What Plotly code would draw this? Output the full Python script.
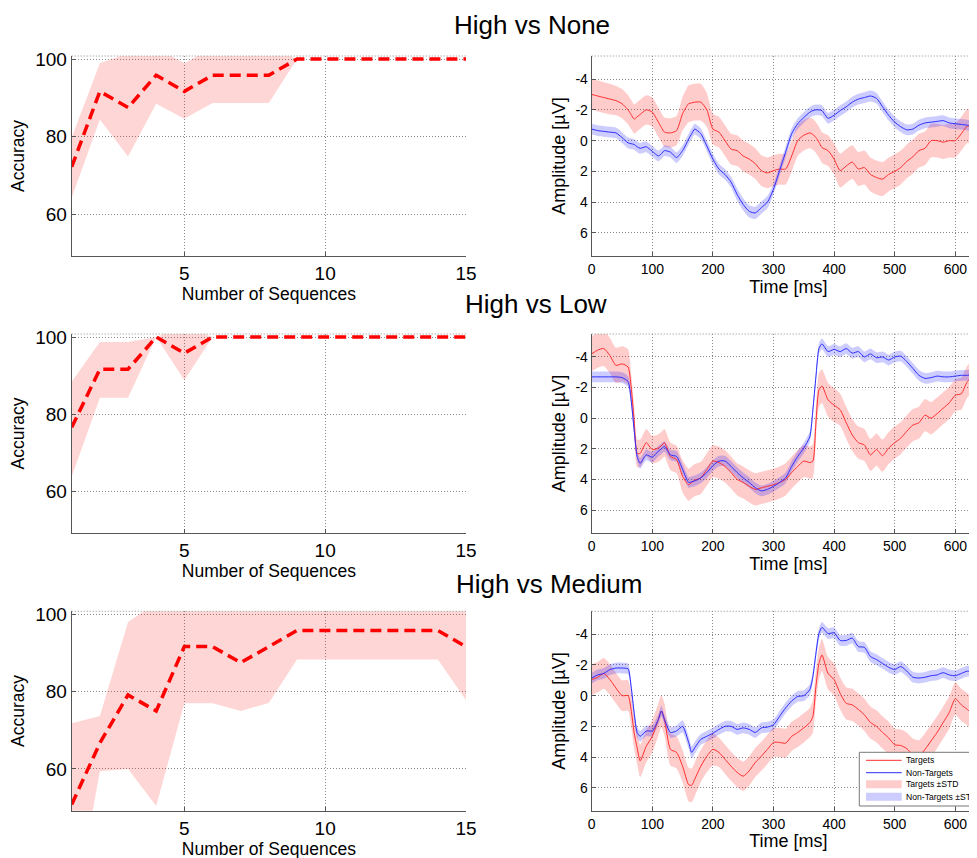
import plotly.graph_objects as go
from plotly.subplots import make_subplots

# ---------------- Accuracy panels (left) ----------------
seq = list(range(1, 16))
none_acc = [72.2, 91.67, 87.5, 95.83, 91.67, 95.83, 95.83, 95.83, 100, 100, 100, 100, 100, 100, 100]
none_up = [79.8, 98.9, 101.5, 103, 98.9, 103, 103, 103, 100, 100, 100, 100, 100, 100, 100]
none_lo = [64.2, 84.4, 74.9, 88.5, 84.6, 88.7, 88.7, 88.7, 100, 100, 100, 100, 100, 100, 100]

low_acc = [76.6, 91.67, 91.67, 100, 95.83, 100, 100, 100, 100, 100, 100, 100, 100, 100, 100]
low_up = [88.4, 98.7, 98.7, 100, 103, 100, 100, 100, 100, 100, 100, 100, 100, 100, 100]
low_lo = [63.8, 84.3, 84.3, 100, 88.8, 100, 100, 100, 100, 100, 100, 100, 100, 100, 100]

med_acc = [50.8, 66.7, 79.17, 75.0, 91.67, 91.67, 87.5, 91.67, 95.83, 95.83, 95.83, 95.83, 95.83, 95.83, 91.67]
med_up = [71.8, 73.7, 98.0, 103, 106, 106, 103, 106, 103, 103, 103, 103, 103, 103, 106]
med_lo = [19.0, 59.4, 60.0, 50.4, 77.0, 77.0, 75.0, 77.1, 88.3, 88.3, 88.3, 88.3, 88.3, 88.3, 77.8]

# ---------------- ERP panels (right) ----------------
time_ms = [0, 10, 20, 30, 40, 50, 60, 65, 70, 75, 80, 90, 100, 110, 115, 120, 130, 140, 150, 160, 165,
           170, 180, 190, 200, 210, 220, 230, 240, 250, 260, 270, 280, 290, 300, 310, 320, 330, 340, 350, 360,
           365, 370, 375, 380, 390, 400, 410, 420, 430, 440, 450, 460, 470, 480, 490, 500, 510, 520, 530, 540,
           550, 560, 570, 580, 590, 600, 610, 620, 630, 640]

none_tgt = [-3.0, -2.9, -2.8, -2.7, -2.6, -2.4, -2.0, -1.7, -1.4, -1.55, -1.7, -2.0, -1.85, -1.2, -0.85,
            -0.55, -0.5, -0.65, -1.75, -2.4, -2.45,
            -2.5, -2.5, -2.0, -0.75, -0.55, 0.0, 0.55, 0.65, 1.0, 1.2, 1.5, 1.95, 2.1, 1.95, 1.85, 1.85, 1.0, 0.0, -0.35, -0.5,
            -0.4, -0.2, 0.1, 0.45,
            0.65, 1.2, 1.95, 1.65, 1.4, 1.85, 1.75, 2.2, 2.4, 2.5, 2.2, 2.0, 1.75, 1.35, 1.05, 0.65, 0.5, 0.0, 0.0, 0.1,
            0.0, 0.0, -0.45, -0.95, -0.8, -0.35]
none_non = [-0.75, -0.65, -0.6, -0.55, -0.5, -0.2, 0.15, 0.2, 0.25, 0.4, 0.5, 0.4, 0.7, 1.0, 0.85,
            0.65, 0.75, 1.1, 0.65, -0.1, -0.45,
            -0.75, -0.45, 0.35, 1.2, 1.85, 2.2, 2.7, 3.5, 4.15, 4.6, 4.7, 4.35, 4.0, 3.15, 1.95, 0.75, -0.45, -1.1, -1.5, -1.85,
            -1.95, -2.0, -2.0, -1.95,
            -1.45, -1.65, -1.95, -2.2, -2.5, -2.7, -2.8, -2.9, -2.75, -2.2, -1.65, -1.2, -0.9, -0.7, -0.75, -1.0, -1.15,
            -1.2, -1.25, -1.3, -1.15, -1.1, -1.05, -1.0, -0.9, -0.85]
none_tgt_sd = [1.0, 1.0, 1.0, 1.0, 0.95, 0.95, 0.95, 0.95, 0.95, 0.95, 0.95, 0.95, 0.95, 0.95, 0.95,
               0.95, 0.95, 0.95, 1.1, 1.2, 1.2,
               1.2, 1.2, 1.1, 1.0, 1.0, 1.0, 1.0, 1.0, 1.0, 1.0, 1.0, 1.0, 1.0, 1.0, 1.0, 1.0, 1.0, 1.0, 1.0, 1.0,
               1.0, 1.0, 1.0, 1.0,
               1.0, 1.0, 1.1, 1.1, 1.1, 1.1, 1.1, 1.1, 1.1, 1.1, 1.1, 1.1, 1.1, 1.1, 1.1, 1.1, 1.1, 1.1, 1.1, 1.1,
               1.1, 1.1, 1.1, 1.1, 1.1, 1.1]
none_non_sd = [0.35, 0.35, 0.35, 0.35, 0.35, 0.35, 0.35, 0.35, 0.35, 0.35, 0.35, 0.35, 0.35, 0.35, 0.35,
               0.35, 0.35, 0.35, 0.35, 0.35, 0.35,
               0.35, 0.35, 0.35, 0.35, 0.35, 0.35, 0.35, 0.4, 0.4, 0.4, 0.4, 0.4, 0.4, 0.35, 0.35, 0.35, 0.35, 0.35, 0.35, 0.35,
               0.35, 0.35, 0.35, 0.35,
               0.35, 0.35, 0.35, 0.35, 0.35, 0.35, 0.35, 0.35, 0.35, 0.35, 0.35, 0.35, 0.35, 0.35, 0.35, 0.35, 0.35,
               0.35, 0.35, 0.35, 0.35, 0.35, 0.35, 0.35, 0.35, 0.35]

low_tgt = [-4.2, -4.45, -4.55, -4.1, -3.45, -3.55, -3.35, -2.05, 0.1, 2.3, 2.3, 1.6, 2.05, 1.95, 1.8,
           1.6, 2.5, 2.7, 3.8, 4.35, 4.2,
           4.05, 3.9, 3.35, 2.8, 2.9, 3.15, 3.55, 4.0, 4.2, 4.45, 4.65, 4.55, 4.45, 4.35, 4.2, 4.0, 3.55, 3.15, 2.8, 2.9,
           2.8, 0.3, -1.85, -2.1,
           -1.2, -0.85, -0.55, 0.3, 1.1, 1.6, 1.75, 2.4, 2.05, 2.45, 1.95, 1.6, 1.3, 0.85, 0.45, 0.3, -0.2,
           0.0, -0.3, -0.65, -1.0, -1.5, -1.6, -2.4, -2.7, -2.8]
low_non = [-2.7, -2.7, -2.7, -2.7, -2.7, -2.65, -2.4, -1.2, 0.75, 2.5, 2.95, 2.4, 2.55, 2.15, 2.0,
           1.85, 2.4, 2.5, 3.35, 4.2, 4.15,
           4.1, 3.9, 3.55, 3.1, 2.8, 2.8, 3.15, 3.55, 3.9, 4.2, 4.55, 4.75, 4.65, 4.45, 4.2, 3.9, 3.15, 2.5, 1.95, 1.2,
           -0.55, -2.7, -4.55, -4.85,
           -4.35, -4.5, -4.35, -4.55, -4.25, -4.35, -4.0, -4.2, -3.95, -4.0, -3.8, -4.0, -4.05, -3.7, -3.25, -2.8, -2.6,
           -2.65, -2.75, -2.7, -2.7, -2.75, -2.8, -2.8, -2.85, -2.85]
low_tgt_sd = [1.15, 1.15, 1.15, 1.15, 1.15, 1.15, 1.15, 0.9, 0.9, 0.9, 0.9, 0.9, 0.9, 0.9, 0.9,
              0.9, 0.9, 0.9, 1.05, 1.05, 1.05,
              1.05, 1.05, 1.05, 1.05, 1.05, 1.05, 1.05, 1.05, 1.05, 1.05, 1.05, 1.05, 1.05, 1.05, 1.05, 1.05, 1.05, 1.05, 1.05, 1.05,
              1.1, 1.1, 1.1, 1.1,
              1.1, 1.1, 1.05, 1.05, 1.05, 1.05, 1.05, 1.05, 1.05, 1.05, 1.05, 1.05, 1.05, 1.05, 1.05, 1.05, 1.05,
              1.05, 1.05, 1.05, 1.05, 1.05, 1.05, 1.05, 1.05, 1.05]
low_non_sd = [0.35, 0.35, 0.35, 0.35, 0.35, 0.35, 0.35, 0.35, 0.35, 0.35, 0.35, 0.35, 0.35, 0.35, 0.35,
              0.35, 0.35, 0.35, 0.35, 0.35, 0.35,
              0.35, 0.35, 0.35, 0.35, 0.35, 0.35, 0.35, 0.35, 0.35, 0.35, 0.35, 0.35, 0.35, 0.35, 0.35, 0.35, 0.35, 0.35, 0.35, 0.35,
              0.35, 0.35, 0.35, 0.35,
              0.35, 0.35, 0.35, 0.35, 0.35, 0.35, 0.35, 0.35, 0.35, 0.35, 0.35, 0.35, 0.35, 0.35, 0.35, 0.35, 0.35,
              0.35, 0.35, 0.35, 0.35, 0.35, 0.35, 0.35, 0.35, 0.35]

med_tgt = [-1.05, -1.2, -1.45, -1.05, -0.5, 0.0, 0.0, 0.9, 2.4, 3.4, 4.25, 3.3, 2.65, 1.55, 1.0,
           1.55, 3.5, 3.7, 4.6, 5.8, 5.85,
           5.45, 4.6, 3.95, 3.5, 3.7, 4.15, 4.6, 5.0, 5.25, 4.9, 4.35, 3.95, 3.5, 3.05, 3.05, 3.1, 2.65, 2.4, 2.1, 1.75,
           1.35, -0.6, -2.1, -2.65,
           -1.45, -1.05, -0.15, 0.5, 0.6, 0.9, 1.25, 1.75, 2.0, 2.4, 2.75, 3.2, 3.25, 3.45, 3.85, 3.95, 3.5,
           2.95, 2.4, 1.75, 1.1, 0.2, 0.6, 0.9, 1.25, 1.1]
med_non = [-1.15, -1.35, -1.45, -1.7, -1.8, -1.8, -1.75, -0.6, 1.1, 2.4, 2.65, 2.3, 2.3, 1.55, 1.0,
           1.55, 2.4, 2.3, 2.0, 3.05, 3.7,
           3.4, 2.85, 2.65, 2.45, 2.2, 2.0, 2.0, 2.2, 2.1, 2.2, 2.4, 2.1, 2.05, 1.9, 1.35, 0.8, 0.35, 0.05, 0.0, -0.4,
           -1.25, -2.75, -4.05, -4.45,
           -4.05, -4.1, -3.6, -3.6, -3.75, -3.2, -3.15, -2.55, -2.35, -2.1, -1.85, -1.7, -1.9, -1.6, -1.2, -1.15, -1.2,
           -1.3, -1.35, -1.5, -1.35, -1.3, -1.45, -1.6, -1.5, -1.75]
med_tgt_sd = [1.0, 1.0, 1.0, 1.0, 1.0, 1.0, 1.0, 1.05, 1.05, 1.05, 1.05, 1.05, 1.05, 1.05, 1.05,
              1.05, 1.05, 1.05, 1.05, 1.1, 1.1,
              1.1, 1.05, 1.05, 1.05, 0.95, 0.95, 0.95, 0.95, 0.95, 0.95, 0.95, 0.95, 0.95, 0.95, 0.95, 0.95, 0.95, 0.95, 0.95, 0.95,
              1.05, 1.05, 1.05, 1.05,
              1.05, 1.05, 1.05, 1.05, 1.05, 1.05, 1.05, 1.05, 1.05, 1.05, 1.05, 1.05, 1.05, 1.05, 1.05, 1.05, 1.05,
              1.05, 1.05, 1.05, 1.05, 1.05, 1.05, 1.05, 1.05, 1.05]
med_non_sd = [0.35, 0.35, 0.35, 0.35, 0.35, 0.35, 0.35, 0.35, 0.35, 0.35, 0.35, 0.35, 0.35, 0.35, 0.35,
              0.35, 0.35, 0.35, 0.4, 0.4, 0.4,
              0.4, 0.35, 0.35, 0.35, 0.35, 0.35, 0.35, 0.35, 0.35, 0.35, 0.35, 0.35, 0.35, 0.35, 0.35, 0.35, 0.35, 0.35, 0.35, 0.35,
              0.35, 0.35, 0.35, 0.35,
              0.35, 0.35, 0.35, 0.35, 0.35, 0.35, 0.35, 0.35, 0.35, 0.35, 0.35, 0.35, 0.35, 0.35, 0.35, 0.35, 0.35,
              0.35, 0.35, 0.35, 0.35, 0.35, 0.35, 0.35, 0.35, 0.35]

panel_titles = ["High vs None", "High vs Low", "High vs Medium"]
acc_ticks = [60, 80, 100]
seq_ticks = [5, 10, 15]
time_ticks = [0, 100, 200, 300, 400, 500, 600]
amp_ticks = [-4, -2, 0, 2, 4, 6]
amp_ticktext = ["-4", "-2", "0", "2", "4", "6"]
legend_labels = ["Targets", "Non-Targets", "Targets \u00b1STD", "Non-Targets \u00b1STD"]

for arr in [none_tgt, none_non, none_tgt_sd, none_non_sd, low_tgt, low_non, low_tgt_sd, low_non_sd,
            med_tgt, med_non, med_tgt_sd, med_non_sd]:
    assert len(arr) == len(time_ms), len(arr)

# ---------------- styling ----------------
FONT = "Liberation Sans, Arial, sans-serif"
RED = "#ff0000"
BAND_ACC = "rgba(255,0,0,0.16)"
TGT_LINE = "rgb(255,45,45)"
NON_LINE = "rgb(45,45,255)"
TGT_BAND = "rgba(255,0,0,0.2)"
NON_BAND = "rgba(0,0,255,0.2)"
GRID = "#8a8a8a"
AXLINE = "#555555"

W, H = 977, 858
OFF = 8.0  # page offset of the figure inside the screenshot


def px_x(p):
    return (p - OFF) / W


def px_y(p):
    return 1 - (p - OFF) / H


fig = make_subplots(rows=3, cols=2)

acc_sets = [(none_acc, none_up, none_lo), (low_acc, low_up, low_lo), (med_acc, med_up, med_lo)]
erp_sets = [(none_tgt, none_tgt_sd, none_non, none_non_sd),
            (low_tgt, low_tgt_sd, low_non, low_non_sd),
            (med_tgt, med_tgt_sd, med_non, med_non_sd)]


def band(x, m, sd):
    up = [a - b for a, b in zip(m, sd)]
    lo = [a + b for a, b in zip(m, sd)]
    return list(x) + list(x)[::-1], up + lo[::-1]


SMOOTH = 0.6
for r in range(3):
    mean, up, lo = acc_sets[r]
    fig.add_trace(go.Scatter(x=seq + seq[::-1], y=up + lo[::-1], fill="toself", fillcolor=BAND_ACC,
                             line=dict(width=0), mode="lines", hoverinfo="skip", showlegend=False),
                  row=r + 1, col=1)
    fig.add_trace(go.Scatter(x=seq, y=mean, mode="lines", line=dict(color=RED, width=3.5, dash="11px,6px"),
                             name="Accuracy", showlegend=False), row=r + 1, col=1)

    tgt, tsd, non, nsd = erp_sets[r]
    bx, by = band(time_ms, tgt, tsd)
    fig.add_trace(go.Scatter(x=bx, y=by, fill="toself", fillcolor=TGT_BAND,
                             line=dict(width=0, shape="spline", smoothing=SMOOTH),
                             mode="lines", hoverinfo="skip", name=legend_labels[2], showlegend=False),
                  row=r + 1, col=2)
    bx, by = band(time_ms, non, nsd)
    fig.add_trace(go.Scatter(x=bx, y=by, fill="toself", fillcolor=NON_BAND,
                             line=dict(width=0, shape="spline", smoothing=SMOOTH),
                             mode="lines", hoverinfo="skip", name=legend_labels[3], showlegend=False),
                  row=r + 1, col=2)
    fig.add_trace(go.Scatter(x=time_ms, y=tgt, mode="lines",
                             line=dict(color=TGT_LINE, width=1, shape="spline", smoothing=SMOOTH),
                             name=legend_labels[0], showlegend=False), row=r + 1, col=2)
    fig.add_trace(go.Scatter(x=time_ms, y=non, mode="lines",
                             line=dict(color=NON_LINE, width=1, shape="spline", smoothing=SMOOTH),
                             name=legend_labels[1], showlegend=False), row=r + 1, col=2)

# domains (screen pixel positions of the reference, corrected for page offset)
left_x = [px_x(71.7), px_x(466.0)]
right_x = [px_x(591.7), 1.0]
px_per_ms = 0.606
time_max = (W - (591.7 - OFF)) / px_per_ms
rows_px = [(56.0, 256.0), (334.0, 533.0), (611.3, 810.7)]
row_dom = [[px_y(b), px_y(t)] for (t, b) in rows_px]

common_ax = dict(showline=True, linecolor=AXLINE, linewidth=1, mirror=False, zeroline=False,
                 showgrid=True, gridcolor=GRID, gridwidth=1, griddash="1px,2px",
                 ticks="inside", ticklen=4, tickcolor=AXLINE, automargin=False)

layout_axes = {}
for r in range(3):
    li = 2 * r + 1
    ri = 2 * r + 2
    sfx = lambda i: "" if i == 1 else str(i)
    layout_axes["xaxis" + sfx(li)] = dict(common_ax, domain=left_x, range=[1, 15], tickvals=seq_ticks,
                                          tickfont=dict(size=19, family=FONT, color="black"),
                                          title=dict(text="Number of Sequences", standoff=2,
                                                     font=dict(size=17.5, family=FONT, color="black")))
    layout_axes["yaxis" + sfx(li)] = dict(common_ax, domain=row_dom[r], range=[49.2, 100.8], tickvals=acc_ticks,
                                          tickfont=dict(size=19, family=FONT, color="black"),
                                          title=dict(text="Accuracy", standoff=7,
                                                     font=dict(size=17.5, family=FONT, color="black")))
    layout_axes["xaxis" + sfx(ri)] = dict(common_ax, domain=right_x, range=[0, time_max], tickvals=time_ticks,
                                          tickfont=dict(size=14, family=FONT, color="black"),
                                          title=dict(text="Time [ms]", standoff=3,
                                                     font=dict(size=18, family=FONT, color="black")))
    layout_axes["yaxis" + sfx(ri)] = dict(common_ax, domain=row_dom[r], range=[7.5, -5.5], tickvals=amp_ticks,
                                          ticktext=amp_ticktext,
                                          tickfont=dict(size=14, family=FONT, color="black"),
                                          title=dict(text="Amplitude [\u00b5V]", standoff=5,
                                                     font=dict(size=18, family=FONT, color="black")))

fig.update_layout(**layout_axes)

shapes = []
# dotted top borders of each axes box
for r in range(3):
    for c in range(2):
        idx = 2 * r + c + 1
        xr = "x" if idx == 1 else "x" + str(idx)
        yr = "y" if idx == 1 else "y" + str(idx)
        shapes.append(dict(type="line", xref=xr + " domain", yref=yr + " domain", x0=0, x1=1, y0=1, y1=1,
                           line=dict(color=GRID, width=1, dash="1px,2px")))

# legend key in the bottom-right panel
shapes.append(dict(type="rect", xref="paper", yref="paper", x0=px_x(859.3), x1=1.02, y0=px_y(806), y1=px_y(752.3),
                   fillcolor="white", line=dict(color="#777777", width=1), layer="above"))
row_y = [760.3, 772.7, 784.3, 796.7]
shapes.append(dict(type="line", xref="paper", yref="paper", x0=px_x(866), x1=px_x(901.7), y0=px_y(row_y[0]),
                   y1=px_y(row_y[0]), line=dict(color=TGT_LINE, width=1)))
shapes.append(dict(type="line", xref="paper", yref="paper", x0=px_x(866), x1=px_x(901.7), y0=px_y(row_y[1]),
                   y1=px_y(row_y[1]), line=dict(color=NON_LINE, width=1)))
shapes.append(dict(type="rect", xref="paper", yref="paper", x0=px_x(866), x1=px_x(901.7), y0=px_y(row_y[2] + 4),
                   y1=px_y(row_y[2] - 4), fillcolor=TGT_BAND, line=dict(width=0)))
shapes.append(dict(type="rect", xref="paper", yref="paper", x0=px_x(866), x1=px_x(901.7), y0=px_y(row_y[3] + 4),
                   y1=px_y(row_y[3] - 4), fillcolor=NON_BAND, line=dict(width=0)))

annotations = []
for lab, yy in zip(legend_labels, row_y):
    annotations.append(dict(text=lab, x=px_x(904.5), y=px_y(yy), xref="paper", yref="paper", xanchor="left",
                            yanchor="middle", showarrow=False, borderpad=0,
                            font=dict(size=8.6, family=FONT, color="black")))

title_pos = [(531.7, 24.5), (536.2, 303.5), (548.7, 583.5)]
for txt, (cx, cy) in zip(panel_titles, title_pos):
    annotations.append(dict(text=txt, x=px_x(cx), y=px_y(cy), xref="paper", yref="paper", xanchor="center",
                            yanchor="middle", showarrow=False, font=dict(size=26, family=FONT, color="black")))

fig.update_layout(width=W, height=H, margin=dict(l=0, r=0, t=0, b=0), autosize=False,
                  paper_bgcolor="white", plot_bgcolor="white", showlegend=False,
                  font=dict(family=FONT, color="black"), shapes=shapes, annotations=annotations)

fig.write_html("out.html")
